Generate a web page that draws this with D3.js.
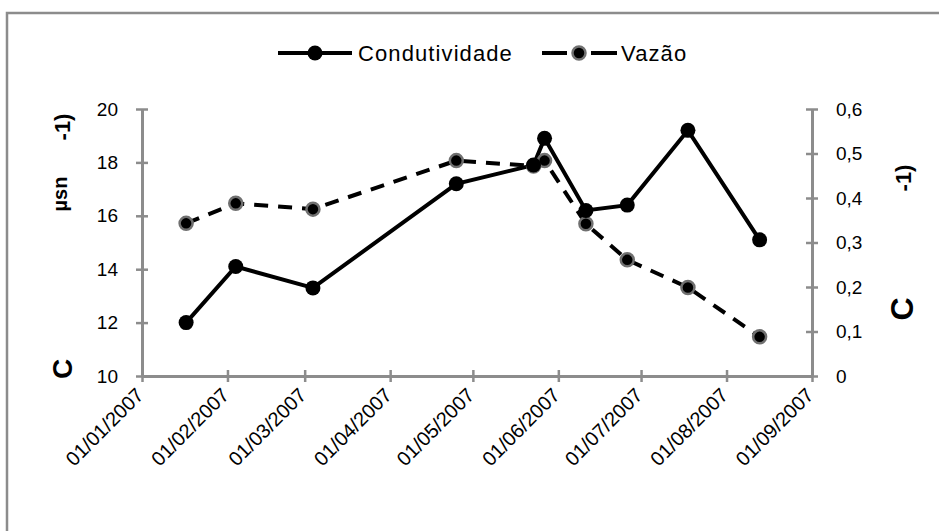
<!DOCTYPE html>
<html>
<head>
<meta charset="utf-8">
<script src="https://cdn.jsdelivr.net/npm/d3@7/dist/d3.min.js"></script>
<style>
  html, body { margin: 0; padding: 0; background: #fff; }
  svg { display: block; font-family: "Liberation Sans", Arial, sans-serif; }
</style>
</head>
<body>
<svg id="chart" width="939" height="531"></svg>
<script>
// ---- data ----
const dates = ["2007-01-17", "2007-02-04", "2007-03-04", "2007-04-25", "2007-05-23",
               "2007-05-27", "2007-06-11", "2007-06-26", "2007-07-18", "2007-08-13"];
const condutividade = [12.0, 14.1, 13.3, 17.2, 17.9, 18.9, 16.2, 16.4, 19.2, 15.1];
const vazao = [0.343, 0.388, 0.375, 0.484, 0.472, 0.484, 0.342, 0.261, 0.199, 0.088];
const xTickDates = ["2007-01-01", "2007-02-01", "2007-03-01", "2007-04-01", "2007-05-01",
                    "2007-06-01", "2007-07-01", "2007-08-01", "2007-09-01"];
const leftTicks = [10, 12, 14, 16, 18, 20];
const rightTicks = [0, 0.1, 0.2, 0.3, 0.4, 0.5, 0.6];
const seriesNames = ["Condutividade", "Vazão"];

// ---- layout ----
const svg = d3.select("#chart");
const parse = d3.timeParse("%Y-%m-%d");
const fmt = d3.timeFormat("%d/%m/%Y");
const plot = {left: 142, right: 812, top: 109, bottom: 376};
const axisColor = "#8c8c8c";

// outer border (chart area frame)
svg.append("rect").attr("x", 7).attr("y", 13).attr("width", 960).attr("height", 560)
  .attr("fill", "none").attr("stroke", "#8c8c8c").attr("stroke-width", 2.5);

const x = d3.scaleTime()
  .domain([parse(xTickDates[0]), parse(xTickDates[xTickDates.length - 1])])
  .range([plot.left, plot.right]);
const yL = d3.scaleLinear().domain([10, 20]).range([plot.bottom, plot.top]);
const yR = d3.scaleLinear().domain([0, 0.6]).range([plot.bottom, plot.top]);

// ---- axes ----
function styleAxis(g) {
  g.select(".domain").attr("stroke", axisColor).attr("stroke-width", 3);
  g.selectAll(".tick line").attr("stroke", axisColor).attr("stroke-width", 2.5);
  g.selectAll(".tick text").attr("fill", "#000").attr("font-size", 19)
    .attr("font-family", "Liberation Sans, Arial, sans-serif");
}

// left
const gL = svg.append("g").attr("transform", `translate(${plot.left},0)`)
  .call(d3.axisLeft(yL).tickValues(leftTicks).tickSizeInner(6).tickSizeOuter(0).tickPadding(18)
        .tickFormat(d3.format("d")));
styleAxis(gL);
gL.selectAll(".tick line").attr("x2", 6).attr("x1", -6);

// right
const gR = svg.append("g").attr("transform", `translate(${plot.right},0)`)
  .call(d3.axisRight(yR).tickValues(rightTicks).tickSizeInner(6).tickSizeOuter(0).tickPadding(18)
        .tickFormat(d => d === 0 ? "0" : d3.format(".1f")(d).replace(".", ",")));
styleAxis(gR);
gR.selectAll(".tick line").attr("x1", -6).attr("x2", 6);

// bottom
const gB = svg.append("g").attr("transform", `translate(0,${plot.bottom})`)
  .call(d3.axisBottom(x).tickValues(xTickDates.map(parse)).tickSizeInner(6).tickSizeOuter(0)
        .tickFormat(fmt));
styleAxis(gB);
gB.selectAll(".tick line").attr("y1", -6).attr("y2", 6);
gB.selectAll(".tick text")
  .attr("font-size", 20)
  .attr("text-anchor", "end")
  .attr("dy", 0)
  .attr("transform", "translate(-4,14) rotate(-45)");

// ---- axis titles (fragmented as in the reference) ----
function rotText(tx, ty, txt, size) {
  svg.append("text").attr("transform", `translate(${tx},${ty}) rotate(-90)`)
    .attr("text-anchor", "middle").attr("font-weight", "bold").attr("font-size", size)
    .attr("fill", "#000").text(txt);
}
rotText(70, 127, "-1)", 22);
rotText(67, 194, "µsn", 20);
rotText(72, 369, "C", 28);
rotText(911, 178, "-1)", 22);
rotText(913, 309, "C", 32);

// ---- lines ----
const pts1 = dates.map((d, i) => [x(parse(d)), yL(condutividade[i])]);
const pts2 = dates.map((d, i) => [x(parse(d)), yR(vazao[i])]);
const line = d3.line();

svg.append("path").attr("d", line(pts2)).attr("fill", "none").attr("stroke", "#000")
  .attr("stroke-width", 4).attr("stroke-dasharray", "14,10");
svg.append("path").attr("d", line(pts1)).attr("fill", "none").attr("stroke", "#000")
  .attr("stroke-width", 4);

svg.append("g").selectAll("circle").data(pts2).join("circle")
  .attr("cx", d => d[0]).attr("cy", d => d[1]).attr("r", 6.5)
  .attr("fill", "#000").attr("stroke", "#707070").attr("stroke-width", 2.5);
svg.append("g").selectAll("circle").data(pts1).join("circle")
  .attr("cx", d => d[0]).attr("cy", d => d[1]).attr("r", 7.5)
  .attr("fill", "#000");

// ---- legend ----
const lg = svg.append("g");
const ly = 53;
lg.append("line").attr("x1", 278).attr("x2", 352).attr("y1", ly).attr("y2", ly)
  .attr("stroke", "#000").attr("stroke-width", 4);
lg.append("circle").attr("cx", 315).attr("cy", ly).attr("r", 7.5).attr("fill", "#000");
lg.append("text").attr("x", 358).attr("y", ly + 8).attr("font-size", 22)
  .attr("letter-spacing", 1.1).text(seriesNames[0]);

lg.append("line").attr("x1", 542).attr("x2", 567).attr("y1", ly).attr("y2", ly)
  .attr("stroke", "#000").attr("stroke-width", 4);
lg.append("line").attr("x1", 591).attr("x2", 617).attr("y1", ly).attr("y2", ly)
  .attr("stroke", "#000").attr("stroke-width", 4);
lg.append("circle").attr("cx", 579).attr("cy", ly).attr("r", 6.5)
  .attr("fill", "#000").attr("stroke", "#707070").attr("stroke-width", 2.5);
lg.append("text").attr("x", 621).attr("y", ly + 8).attr("font-size", 22)
  .attr("letter-spacing", 1.1).text(seriesNames[1]);
</script>
</body>
</html>
